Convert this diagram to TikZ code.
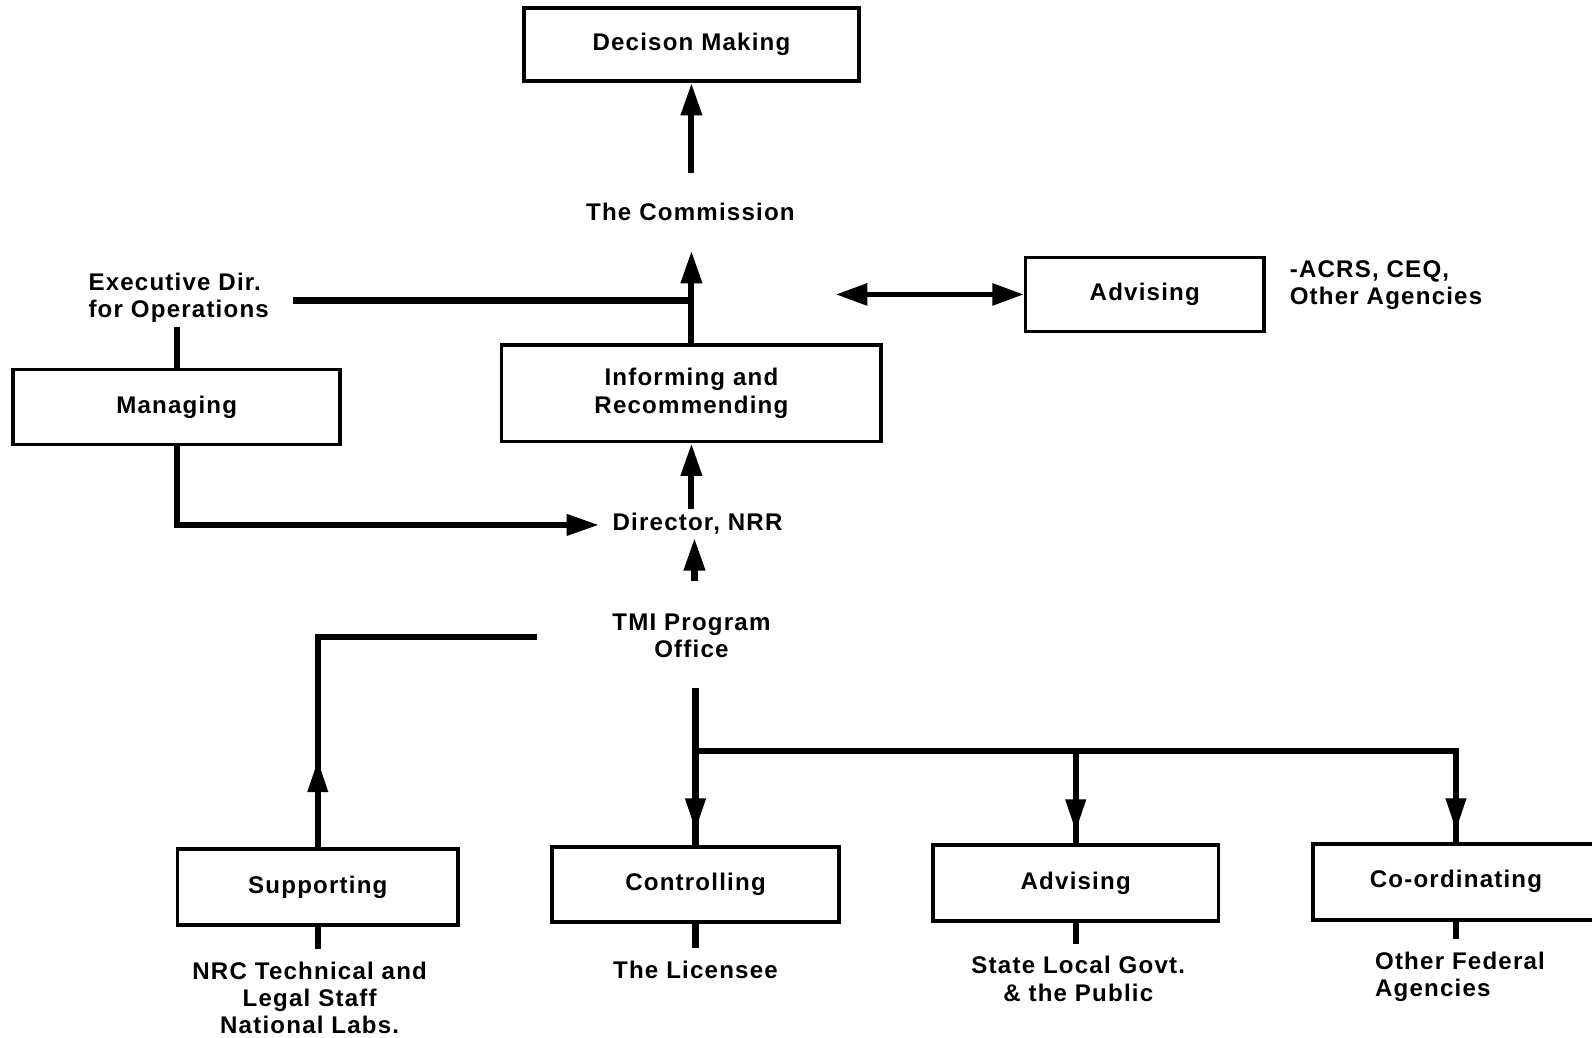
\documentclass[tikz,border=0pt]{standalone}
\usepackage{fontspec}
\setmainfont{Liberation Sans}[LetterSpace=5]
\usetikzlibrary{arrows.meta,calc,decorations.markings}
\newcommand{\dgfont}{\bfseries\fontsize{13.5}{15.3}\selectfont}
\begin{document}
\begin{tikzpicture}[x=0.02cm,y=-0.02cm,
  box/.style={draw, line width=0.07cm, inner sep=0pt, align=center, font=\dgfont},
  txt/.style={inner sep=0.08cm, align=center, font=\dgfont},
  conn/.style={line width=0.12cm},
  arr/.style={conn, -{Triangle[length=0.64cm,width=0.4cm]}},
  dbl/.style={line width=0.1cm, {Triangle[length=0.62cm,width=0.42cm]}-{Triangle[length=0.62cm,width=0.42cm]}},
  midarr/.style={postaction={decorate}, decoration={markings, mark=at position #1 with {\arrow{Triangle[length=0.64cm,width=0.38cm]}}}},
  below/.style={conn, shorten >=0.16cm}
]
\fill[white] (0,0) rectangle (1568,1022);
\useasboundingbox (0,0) rectangle (1568,1022);

% boxes
\node[box, minimum width=6.6cm,  minimum height=1.44cm] (dec)  at (681,44)     {Decison Making};
\node[box, minimum width=7.48cm, minimum height=1.9cm]  (inf)  at (681,387.5)  {Informing and\\Recommending};
\node[box, minimum width=6.44cm, minimum height=1.48cm] (mgr)  at (174,401)    {Managing};
\node[box, minimum width=4.7cm,  minimum height=1.46cm] (adv1) at (1127.5,290) {Advising};
\node[box, minimum width=5.52cm, minimum height=1.5cm]  (sup)  at (313,873.5)  {Supporting};
\node[box, minimum width=5.66cm, minimum height=1.48cm] (ctl)  at (685,871)    {Controlling};
\node[box, minimum width=5.62cm, minimum height=1.5cm]  (adv2) at (1059.5,869.5) {Advising};
\node[box, minimum width=5.64cm, minimum height=1.5cm]  (coo)  at (1434,868.5) {Co-ordinating};

% text labels
\node[txt] (comm) at (680,209) {The Commission};
\node[txt, align=left] (exec) at (176,293) {Executive Dir.\\for Operations};
\node[txt] (dir) at (687,516) {Director, NRR};
\node[txt] (tmi) at (681,626) {TMI Program\\Office};
\node[txt, align=left, anchor=west] (acrs) at (1266,281) {-ACRS, CEQ,\\Other Agencies};
\node[txt] (nrc) at (305,983) {NRC Technical and\\Legal Staff\\National Labs.};
\node[txt] (lic) at (685,955) {The Licensee};
\node[txt] (state) at (1062,964) {State Local Govt.\\\& the Public};
\node[txt, align=left, anchor=west] (ofa) at (1350,962) {Other Federal\\Agencies};

% connectors
\draw[arr, shorten <=0.52cm] (dec.south |- comm.north) -- (dec.south);
\draw[arr, shorten >=0.5cm] (inf.north) -- (inf.north |- comm.south);
\draw[conn] ($(exec)+(113,3)$) -| (inf.north);
\draw[conn] (mgr.north) -- (mgr.north |- exec.south);
\draw[arr] (mgr.south) |- ($(dir.west)+(-9,1)$);
\draw[arr] (dir.north -| inf.south) -- (inf.south);
\draw[arr, shorten <=0.56cm] ($(tmi.north)+(3,0)$) -- ($(tmi.north)+(3,-70)$);
\draw[dbl] ($(adv1.west)+(-185,0)$) -- (adv1.west);

\draw[conn, midarr=1.72cm] (sup.north) |- ($(tmi)+(-152,1)$);
\coordinate (busL) at ($(tmi)+(4,114)$);
\draw[conn, midarr=-0.28cm] ($(tmi)+(4,52)$) -- (ctl.north |- busL) -- (ctl.north);
\draw[conn, midarr=-0.22cm] (busL) -| (coo.north);
\draw[conn, midarr=-0.22cm] (adv2.north |- busL) -- (adv2.north);

\draw[below] (sup.south) -- (sup.south |- nrc.north);
\draw[below] (ctl.south) -- (ctl.south |- lic.north);
\draw[below] (adv2.south) -- (adv2.south |- state.north);
\draw[below] (coo.south) -- (coo.south |- ofa.north);
\end{tikzpicture}
\end{document}
